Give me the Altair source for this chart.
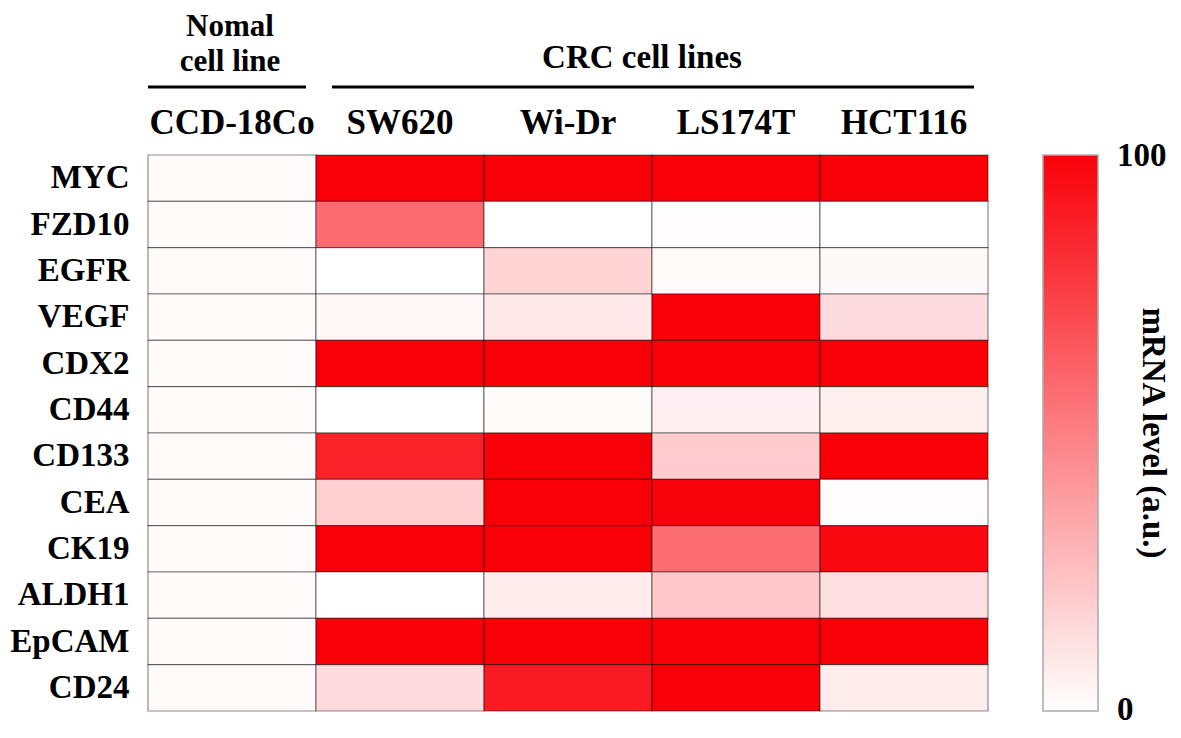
import altair as alt
import pandas as pd

# ---- data ----
genes = ["MYC", "FZD10", "EGFR", "VEGF", "CDX2", "CD44", "CD133", "CEA",
         "CK19", "ALDH1", "EpCAM", "CD24"]
cell_lines = ["CCD-18Co", "SW620", "Wi-Dr", "LS174T", "HCT116"]

ccd18co = [1.5, 1.5, 1.5, 1.5, 1.5, 1.5, 1.5, 1.5, 1.5, 1.5, 1.5, 1.5]
sw620 = [100, 58, 0, 3, 100, 0, 87, 19, 100, 0, 100, 14]
widr = [100, 0.5, 17, 9, 100, 1.5, 100, 100, 100, 7, 100, 90]
ls174t = [100, 1, 1.5, 100, 100, 6.5, 20, 99, 57, 22, 100, 100]
hct116 = [100, 0.5, 2, 14, 100, 6, 100, 1, 97, 12, 100, 7]

group_labels = ["Nomal", "cell line", "CRC cell lines"]
legend_title = "mRNA level (a.u.)"
legend_ticks = [0.2, 99.8]

series = [ccd18co, sw620, widr, ls174t, hct116]
rows = []
for cl, vals in zip(cell_lines, series):
    for g, v in zip(genes, vals):
        rows.append({"cell_line": cl, "gene": g, "value": v})
df = pd.DataFrame(rows)

FONT = "Liberation Serif"
W, H = 840, 556

xenc = alt.X("cell_line:N", sort=cell_lines, axis=None,
             scale=alt.Scale(domain=cell_lines, paddingInner=0, paddingOuter=0))

heat = alt.Chart(df).mark_rect(
    stroke="black", strokeOpacity=0.45, strokeWidth=1.2
).encode(
    x=xenc,
    y=alt.Y("gene:N", sort=genes, title=None,
            scale=alt.Scale(domain=genes, paddingInner=0, paddingOuter=0),
            axis=alt.Axis(domain=False, ticks=False, tickSize=0, labelPadding=19,
                          labelFont=FONT, labelFontSize=33, labelFontWeight="bold",
                          labelColor="black", grid=False)),
    color=alt.Color("value:Q",
                    scale=alt.Scale(domain=[0, 100], range=["#ffffff", "#f90008"],
                                    interpolate="rgb"),
                    legend=alt.Legend(orient="none", legendX=895, legendY=0,
                                      direction="vertical", title=None,
                                      gradientLength=H, gradientThickness=55,
                                      gradientStrokeColor="#aaaaaa",
                                      gradientStrokeWidth=1.5,
                                      values=legend_ticks,
                                      labelExpr="datum.value < 50 ? '0' : '100'",
                                      labelFont=FONT,
                                      labelFontSize=33, labelFontWeight="bold",
                                      labelColor="black", labelOffset=19,
                                      labelBaseline="middle")),
)

col_labels = alt.Chart(pd.DataFrame({"cell_line": cell_lines})).mark_text(
    font=FONT, fontSize=35, fontWeight="bold", color="black",
    baseline="alphabetic", align="center"
).encode(x=xenc, y=alt.value(-21), text="cell_line:N")

def label(txt, x, y, size=34, angle=0, baseline="alphabetic"):
    return alt.Chart(pd.DataFrame({"t": [txt]})).mark_text(
        font=FONT, fontSize=size, fontWeight="bold", color="black",
        baseline=baseline, align="center", angle=angle
    ).encode(x=alt.value(x), y=alt.value(y), text="t:N")

t1 = label(group_labels[0], 82, -119, size=31)
t2 = label(group_labels[1], 82, -84, size=31)
t3 = label(group_labels[2], 494, -87, size=33)
t4 = label(legend_title, 1005, H / 2, size=33, angle=90, baseline="middle")

line_df = pd.DataFrame({"k": [0]})
l1 = alt.Chart(line_df).mark_rule(color="black", strokeWidth=3).encode(
    x=alt.value(0), x2=alt.value(158), y=alt.value(-68))
l2 = alt.Chart(line_df).mark_rule(color="black", strokeWidth=3).encode(
    x=alt.value(184), x2=alt.value(826), y=alt.value(-68))

chart = alt.layer(heat, col_labels, t1, t2, t3, t4, l1, l2).properties(
    width=W, height=H,
    autosize=alt.AutoSizeParams(type="none"),
    padding={"left": 140, "top": 147, "right": 185, "bottom": 19},
    background="white",
).configure_view(stroke=None)

chart.save("out.html", embed_options={"renderer": "svg", "actions": False})
